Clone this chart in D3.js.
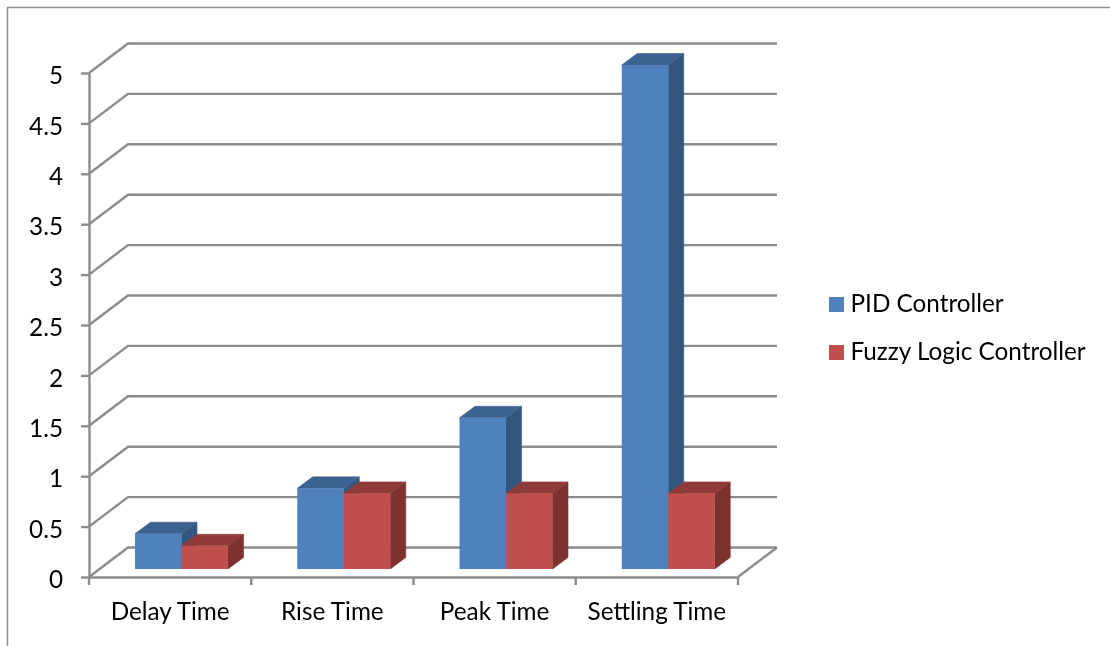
<!DOCTYPE html>
<html>
<head>
<meta charset="utf-8">
<script src="https://cdnjs.cloudflare.com/ajax/libs/d3/7.8.5/d3.min.js"></script>
<style>
  html, body { margin: 0; padding: 0; background: #fff; overflow: hidden; }
  svg { filter: blur(0.45px); }
  text { font-family: Lato, "Open Sans", sans-serif; font-size: 24.3px; fill: #000; }
  .axis path, .axis line { stroke: #8c8c8c; stroke-width: 2.4px; }
</style>
</head>
<body>
<div id="chart"></div>
<script>
const categories = ["Delay Time", "Rise Time", "Peak Time", "Settling Time"];
const seriesNames = ["PID Controller", "Fuzzy Logic Controller"];
const pidValues = [0.35, 0.8, 1.5, 5];
const fuzzyValues = [0.23, 0.75, 0.75, 0.75];
const yTicks = [0, 0.5, 1, 1.5, 2, 2.5, 3, 3.5, 4, 4.5, 5];

const width = 1110, height = 646;
const plotLeft = 89, plotRight = 738, plotBottom = 577, plotTop = 73;
// oblique offset of the back wall and of the bars
const wallDx = 39, wallDy = -29.5;
const barDx = 15.5, barDy = -11.5, barLift = 8, barInset = 46;
const grey = "#8c8c8c";

const colors = [
    { front: "#4f81bd", top: "#3c628f", side: "#32577f" },
    { front: "#c0504d", top: "#8f3b39", side: "#7d3230" }
];

const svg = d3.select("#chart").append("svg")
    .attr("width", width)
    .attr("height", height)
    .style("display", "block");

// outer frame, only top and left are in the picture
svg.append("path")
    .attr("d", `M7.5,${height + 5} V7.5 H${width + 5}`)
    .attr("fill", "none")
    .attr("stroke", "#8c8c8c")
    .attr("stroke-width", 1.5);

const x = d3.scaleBand().domain(categories).range([plotLeft, plotRight]);
const y = d3.scaleLinear().domain([0, 5]).range([plotBottom, plotTop]);
const inner = d3.scaleBand().domain(seriesNames).range([0, 93]);

// gridlines running up the side wall and along the back wall
svg.append("g").selectAll("path")
    .data(yTicks)
    .enter()
    .append("path")
    .attr("d", d => `M${plotLeft},${y(d)} L${plotLeft + wallDx},${y(d) + wallDy} H${plotRight + wallDx}`)
    .attr("fill", "none")
    .attr("stroke", grey)
    .attr("stroke-width", 2.4);

// floor edge on the right
svg.append("path")
    .attr("d", `M${plotRight},${plotBottom} L${plotRight + wallDx},${plotBottom + wallDy}`)
    .attr("fill", "none")
    .attr("stroke", grey)
    .attr("stroke-width", 2.4);

const yAxis = svg.append("g")
    .attr("class", "axis")
    .attr("transform", `translate(${plotLeft},0)`)
    .call(d3.axisLeft(y).tickValues(yTicks).tickSize(8).tickSizeOuter(0).tickPadding(18)
        .tickFormat(d => String(d)));
yAxis.selectAll("text").attr("dy", "0.36em").attr("y", 2);

const xAxis = svg.append("g")
    .attr("class", "axis")
    .attr("transform", `translate(0,${plotBottom})`)
    .call(d3.axisBottom(x).tickSize(0).tickSizeOuter(0).tickPadding(26));
xAxis.selectAll("text").attr("dy", "0.71em");

// category boundary ticks
svg.append("g").selectAll("line")
    .data(d3.range(categories.length + 1))
    .enter()
    .append("line")
    .attr("x1", i => plotLeft + i * x.bandwidth())
    .attr("x2", i => plotLeft + i * x.bandwidth())
    .attr("y1", plotBottom)
    .attr("y2", plotBottom + 8)
    .attr("stroke", grey)
    .attr("stroke-width", 2.4);

// 3D bars: side, top, then front
function drawBars(values, name, c) {
    const g = svg.append("g").selectAll("g")
        .data(values)
        .enter()
        .append("g");

    const x0 = (d, i) => x(categories[i]) + barInset + inner(name);
    const x1 = (d, i) => x0(d, i) + inner.bandwidth();
    const base = plotBottom - barLift;
    const yt = d => y(d) - barLift;

    // thin own-colour stroke closes the antialias seam between faces
    g.append("path")
        .attr("d", (d, i) => `M${x1(d, i)},${base} V${yt(d)} l${barDx},${barDy} V${base + barDy} Z`)
        .attr("fill", c.side)
        .attr("stroke", c.side)
        .attr("stroke-width", 0.6);
    g.append("path")
        .attr("d", (d, i) => `M${x0(d, i)},${yt(d)} H${x1(d, i)} l${barDx},${barDy} H${x0(d, i) + barDx} Z`)
        .attr("fill", c.top)
        .attr("stroke", c.top)
        .attr("stroke-width", 0.6);
    g.append("rect")
        .attr("x", (d, i) => x0(d, i))
        .attr("y", d => yt(d))
        .attr("width", inner.bandwidth())
        .attr("height", d => base - yt(d))
        .attr("fill", c.front);
}

drawBars(pidValues, seriesNames[0], colors[0]);
drawBars(fuzzyValues, seriesNames[1], colors[1]);

// legend
const legend = svg.append("g")
    .selectAll("g")
    .data(seriesNames)
    .enter()
    .append("g")
    .attr("transform", (d, i) => `translate(829,${297 + i * 48})`);

legend.append("rect")
    .attr("width", 15)
    .attr("height", 15)
    .attr("fill", (d, i) => colors[i].front);

legend.append("text")
    .attr("x", 21.5)
    .attr("y", 15)
    .text(d => d);
</script>
</body>
</html>
